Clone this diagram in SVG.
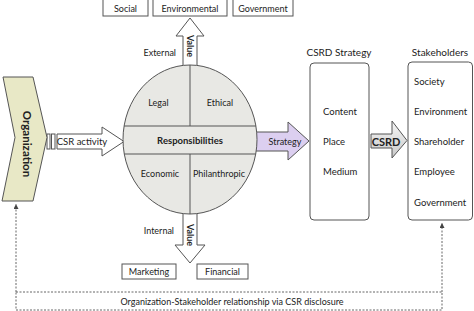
<svg xmlns="http://www.w3.org/2000/svg" width="474" height="311" viewBox="0 0 474 311">
<defs>
<style>
text{font-family:Lato,"Open Sans","DejaVu Sans",sans-serif;fill:#222;font-size:9px;}
.c{text-anchor:middle;dominant-baseline:central;}
.l{text-anchor:start;dominant-baseline:central;}
.r{text-anchor:end;dominant-baseline:central;}
.b{font-weight:bold;}
.h{font-size:10px;}
.i{font-size:9.5px;}
.box{fill:#fff;stroke:#555;stroke-width:1;}
.shape{stroke:#555;stroke-width:1;}
.dash{fill:none;stroke:#666;stroke-width:1;stroke-dasharray:2 1.5;}
</style>
<linearGradient id="gg" x1="0" y1="0" x2="0" y2="1">
<stop offset="0" stop-color="#f6f6f6"/>
<stop offset="1" stop-color="#c9c9c9"/>
</linearGradient>
<marker id="ah" viewBox="0 0 6 6" refX="6" refY="3" markerWidth="5" markerHeight="5" orient="auto">
<path d="M0,0 L6,3 L0,6 Z" fill="#444"/>
</marker>
</defs>
<rect width="474" height="311" fill="#fff"/>

<g id="connectors">
<rect x="16" y="292" width="426" height="18" class="dash"/>
<path d="M16,292 V204" class="dash" marker-end="url(#ah)"/>
<path d="M442,292 V223" class="dash" marker-end="url(#ah)"/>
<text class="c" x="232" y="301">Organization-Stakeholder relationship via CSR disclosure</text>
</g>

<g id="social"><rect x="103" y="-2" width="45" height="18" class="box"/><text class="c" x="125.5" y="8">Social</text></g>
<g id="environmental"><rect x="153" y="-2" width="74" height="18" class="box"/><text class="c" x="190" y="8">Environmental</text></g>
<g id="government-top"><rect x="233" y="-2" width="60" height="18" class="box"/><text class="c" x="263" y="8">Government</text></g>

<g id="value-up">
<path d="M183,72 V36 H176 L190,18 L204,36 H197 V72 Z" fill="#fff" class="shape"/>
<text class="c b" transform="translate(190,46) rotate(90)">Value</text>
<text class="r" x="176" y="52">External</text>
</g>

<g id="value-down">
<path d="M183,205 V245 H175 L190,263 L205,245 H197 V205 Z" fill="#fff" class="shape"/>
<text class="c b" transform="translate(190,235) rotate(90)">Value</text>
<text class="r" x="174" y="230">Internal</text>
</g>

<g id="strategy-arrow">
<path d="M250,132 H288 V122 L309,141 L288,160 V151 H250 Z" fill="#dccff0" class="shape"/>
<text class="c" x="285" y="141">Strategy</text>
</g>

<g id="csr-activity">
<rect x="47" y="134" width="3" height="15" fill="#fff" class="shape"/>
<rect x="51.5" y="134" width="3.5" height="15" fill="#fff" class="shape"/>
<path d="M57,134 H102 V127 L124,141.5 L102,156 V149 H57 Z" fill="#fff" class="shape"/>
<text class="c i" x="82" y="141.5">CSR activity</text>
</g>

<g id="responsibilities">
<ellipse cx="190" cy="139.5" rx="67" ry="74.5" fill="#e8e8e4" class="shape"/>
<path d="M124.1,126 H255.9 M124.3,154 H255.7 M190,65 V126 M190,154 V214" fill="none" class="shape"/>
<text class="c" x="158.5" y="102">Legal</text>
<text class="c" x="220" y="102">Ethical</text>
<text class="c b i" x="190" y="140">Responsibilities</text>
<text class="c" x="160" y="173">Economic</text>
<text class="c" x="219" y="173">Philanthropic</text>
</g>

<g id="organization">
<path d="M3,77 H33 L47,137.5 L33,201 H2 L15,137.5 Z" fill="#e8e8c6" class="shape"/>
<text class="c b" style="font-size:11.5px" transform="translate(27,144) rotate(90)">Organization</text>
</g>

<g id="marketing"><rect x="122" y="264" width="54" height="15" class="box"/><text class="c" x="149" y="271.5">Marketing</text></g>
<g id="financial"><rect x="197" y="264" width="51" height="15" class="box"/><text class="c" x="222.5" y="271.5">Financial</text></g>

<g id="csrd-strategy">
<text class="c h" x="339" y="52">CSRD Strategy</text>
<rect x="310" y="63" width="59" height="157" rx="4" class="box"/>
<text class="l i" x="323" y="111">Content</text>
<text class="l i" x="323" y="141">Place</text>
<text class="l i" x="323" y="171">Medium</text>
</g>

<g id="csrd-arrow">
<path d="M371,134 H392 V121 L407,140.5 L392,158 V148 H371 Z" fill="url(#gg)" class="shape"/>
<text class="c b" style="font-size:11px" x="386" y="141">CSRD</text>
</g>

<g id="stakeholders">
<text class="c h" x="440" y="52">Stakeholders</text>
<rect x="408" y="62" width="64.5" height="158" rx="4" class="box"/>
<text class="l i" x="414" y="81">Society</text>
<text class="l i" x="414" y="111">Environment</text>
<text class="l i" x="414" y="141">Shareholder</text>
<text class="l i" x="414" y="171">Employee</text>
<text class="l i" x="414" y="202">Government</text>
</g>
</svg>
